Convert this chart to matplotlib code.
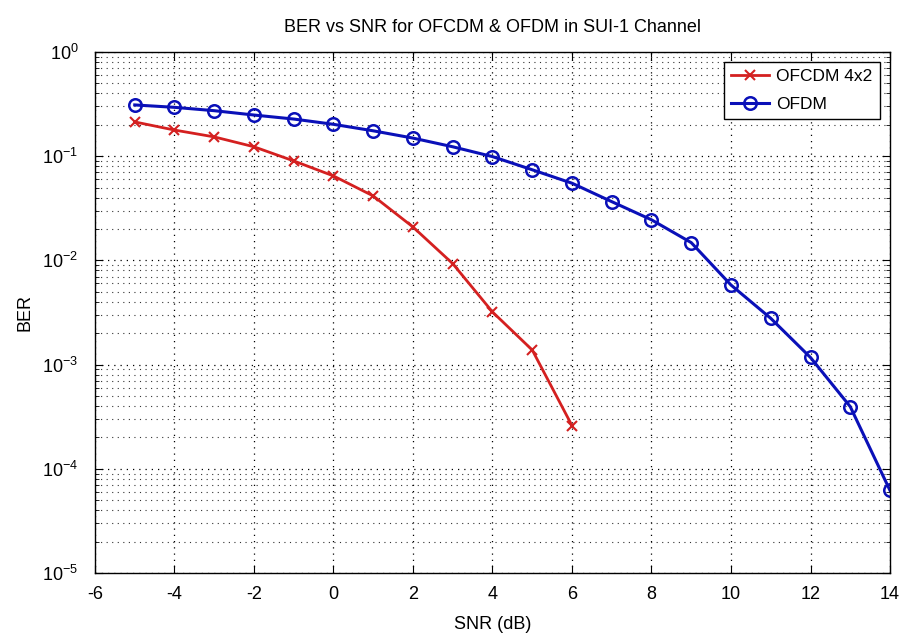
import numpy as np
import matplotlib.pyplot as plt
from matplotlib.ticker import LogLocator, FixedLocator

plt.rcParams['font.family'] = ['Liberation Sans', 'DejaVu Sans']
plt.rcParams['mathtext.default'] = 'regular'
plt.rcParams['axes.unicode_minus'] = False

# data
snr_ofcdm = [-5, -4, -3, -2, -1, 0, 1, 2, 3, 4, 5, 6]
ber_ofcdm = [0.213, 0.178, 0.153, 0.123, 0.090, 0.0646, 0.0415, 0.0209,
             0.0093, 0.0032, 0.00138, 0.00026]

snr_ofdm = list(range(-5, 15))
ber_ofdm = [0.31, 0.294, 0.273, 0.248, 0.227, 0.202, 0.175, 0.149, 0.123,
            0.099, 0.074, 0.055, 0.0366, 0.0245, 0.0148, 0.0058, 0.00278,
            0.00117, 0.000395, 0.000062]

fig = plt.figure(figsize=(9.02, 6.41), dpi=100)
ax = fig.add_axes([0.1053, 0.106, 0.8814, 0.813])

ax.semilogy(snr_ofcdm, ber_ofcdm, '-x', color='#d42020', lw=2, ms=7, mew=1.5,
            label='OFCDM 4x2')
ax.semilogy(snr_ofdm, ber_ofdm, '-o', color='#0a10b8', lw=2.2, ms=9, mew=1.8,
            mfc='none', label='OFDM')

ax.set_xlim(-6, 14)
ax.set_ylim(1e-5, 1)
ax.set_xticks(range(-6, 15, 2))
ax.yaxis.set_major_locator(FixedLocator([1e-5, 1e-4, 1e-3, 1e-2, 1e-1, 1]))
ax.yaxis.set_minor_locator(LogLocator(base=10, subs=np.arange(2, 10)))
ax.set_yticklabels(['$10^{-5}$', '$10^{-4}$', '$10^{-3}$', '$10^{-2}$',
                    '$10^{-1}$', '$10^{0}$'])

dots = (0, (1, 4))
ax.grid(True, which='major', ls=dots, color='black', lw=0.9)
ax.grid(True, which='minor', axis='y', ls=dots, color='#333333', lw=0.8)
ax.tick_params(which='both', direction='in', top=True, right=True,
               labelsize=13)
ax.tick_params(which='major', length=6)
ax.tick_params(which='minor', length=3)
ax.tick_params(axis='x', pad=9)
ax.tick_params(axis='y', pad=12)
for s in ax.spines.values():
    s.set_linewidth(1)

ax.set_xlabel('SNR (dB)', fontsize=13, labelpad=10)
ax.set_ylabel('BER', fontsize=13, labelpad=6)
ax.set_title('BER vs SNR for OFCDM & OFDM in SUI-1 Channel', fontsize=13,
             pad=14)

leg = ax.legend(loc='upper right', fontsize=12.5, fancybox=False,
                edgecolor='black', framealpha=1, handlelength=2.2,
                borderaxespad=0.6, labelspacing=0.7, handletextpad=0.4)
leg.get_frame().set_linewidth(1)

fig.savefig('out.png', dpi=100)
